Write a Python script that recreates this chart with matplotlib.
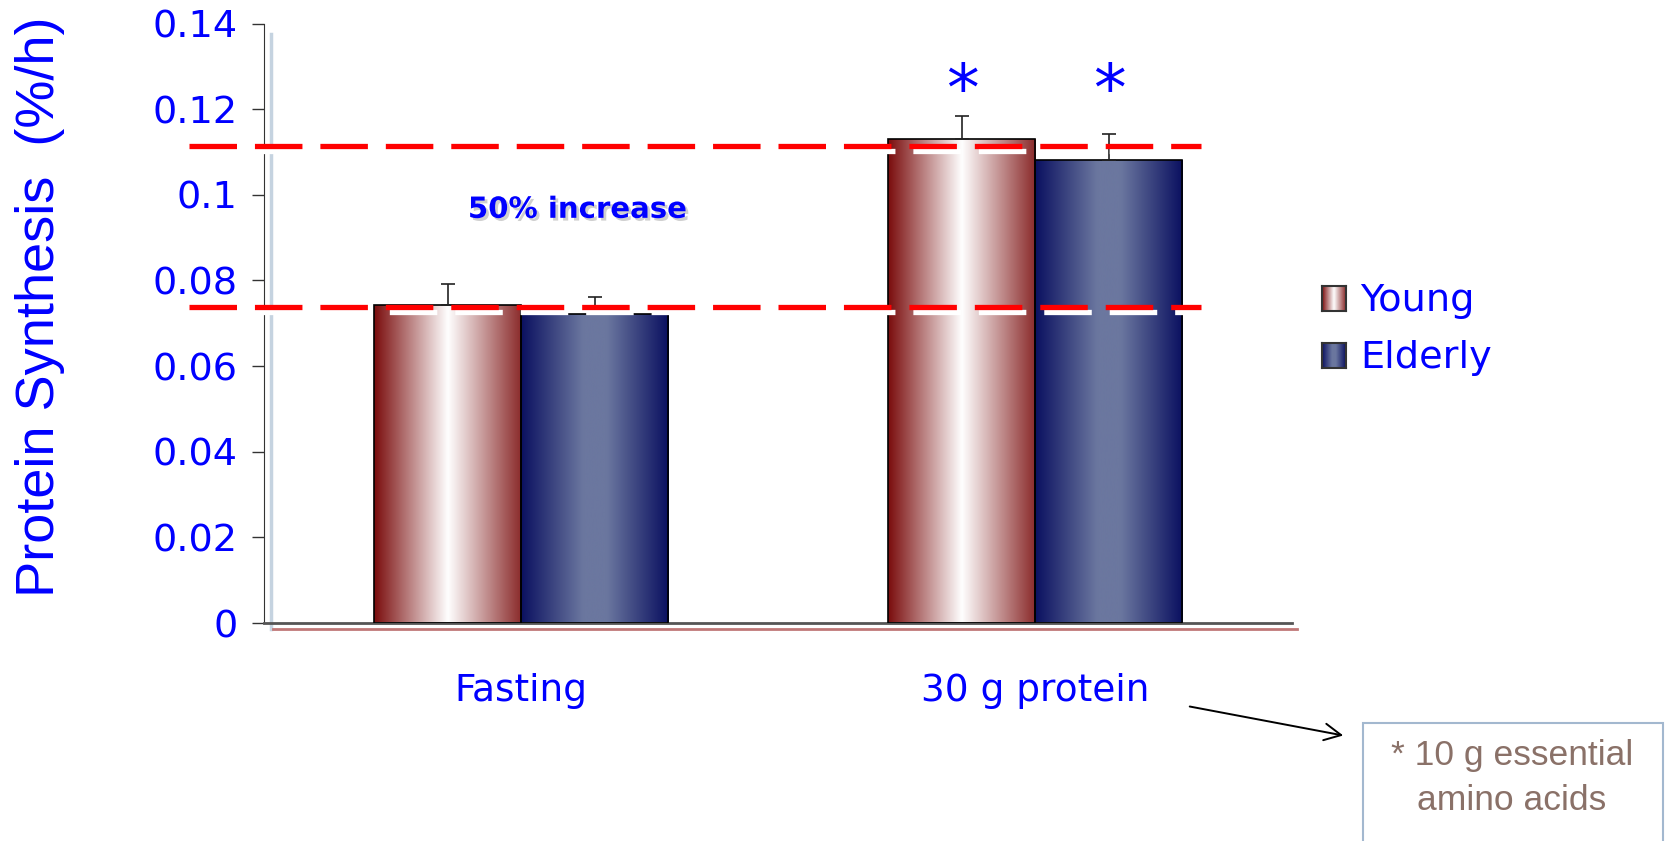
import numpy as np
import matplotlib.pyplot as plt
import matplotlib.patches as mpatches
import matplotlib.patheffects as pe
from matplotlib.colors import LinearSegmentedColormap

# données
categories = ["Fasting", "30 g protein"]
young = [0.0742, 0.1131]
elderly = [0.0722, 0.1081]
young_err = [0.0050, 0.0052]
elderly_err = [0.0040, 0.0060]
significant = [False, True]  # astérisques
ref_levels = [0.1113, 0.0737]  # lignes rouges pointillées
yticks = [0, 0.02, 0.04, 0.06, 0.08, 0.1, 0.12, 0.14]
ytick_labels = ["0", "0.02", "0.04", "0.06", "0.08", "0.1", "0.12", "0.14"]

BLUE = "#0000ff"
young_cmap = LinearSegmentedColormap.from_list(
    "young", [(0, "#7a0c0c"), (0.5, "#ffffff"), (1, "#8a2a2a")])
elderly_cmap = LinearSegmentedColormap.from_list(
    "elderly", [(0, "#0a1060"), (0.42, "#6b779f"), (0.58, "#6b779f"), (1, "#0a1060")])
grad = np.linspace(0, 1, 256).reshape(1, -1)


def gradient_bar(ax, x0, w, h, cmap):
    # barre avec dégradé horizontal
    rect = mpatches.Rectangle((x0, 0), w, h, facecolor="none",
                              edgecolor="black", lw=1.2, zorder=3)
    ax.add_patch(rect)
    im = ax.imshow(grad, cmap=cmap, extent=[x0, x0 + w, 0, h],
                   aspect="auto", zorder=2, interpolation="bicubic")
    im.set_clip_path(rect)


fig = plt.figure(figsize=(16.72, 8.41), dpi=100)
ax = fig.add_axes([0.158, 0.2592, 0.615, 0.7128])

x = np.arange(len(categories))
w = 0.286
for i in x:
    gradient_bar(ax, i - w, w, young[i], young_cmap)
    gradient_bar(ax, i, w, elderly[i], elderly_cmap)

ax.errorbar(x - w / 2, young, yerr=[np.zeros(2), young_err], fmt="none",
            ecolor="#222222", elinewidth=1.2, capsize=5, capthick=1.2, zorder=4)
ax.errorbar(x + w / 2, elderly, yerr=[np.zeros(2), elderly_err], fmt="none",
            ecolor="#222222", elinewidth=1.2, capsize=5, capthick=1.2, zorder=4)

# lignes rouges avec ombre blanche
for lv in ref_levels:
    ax.plot([-0.647, 1.322], [lv, lv], color="red", lw=3.8,
            dashes=(9, 3.4), clip_on=False, zorder=5, solid_capstyle="butt",
            path_effects=[pe.SimpleLineShadow(offset=(3, -3), shadow_color="white", alpha=1),
                          pe.Normal()])

# astérisques
for i in x:
    if significant[i]:
        ax.text(i - w / 2, 0.1195, "*", color=BLUE, fontsize=47, ha="center", va="baseline")
        ax.text(i + w / 2, 0.1195, "*", color=BLUE, fontsize=47, ha="center", va="baseline")

ax.text(0.109, 0.0965, "50% increase", color=BLUE, fontsize=21, fontweight="bold",
        ha="center", va="center",
        path_effects=[pe.withSimplePatchShadow(offset=(2, -2), shadow_rgbFace="#b0b0b0", alpha=0.6)])

ax.set_xlim(-0.5, 1.5)
ax.set_ylim(0, 0.14)
ax.set_yticks(yticks)
ax.set_yticklabels(ytick_labels)
ax.set_xticks(x)
ax.set_xticklabels(categories)
ax.tick_params(axis="y", direction="out", length=9, width=1, color="#333333",
               labelcolor=BLUE, labelsize=27.5, pad=10)
ax.tick_params(axis="x", length=0, labelcolor=BLUE, labelsize=27, pad=36)
for s in ["top", "right"]:
    ax.spines[s].set_visible(False)
ax.spines["left"].set_color("#333333")
ax.spines["bottom"].set_color("#555555")
ax.spines["bottom"].set_linewidth(2)

# lignes décoratives
ax.plot([-0.487, -0.487], [-0.0015, 0.1375], color="#c5d3e0", lw=2.5, clip_on=False, zorder=1)
ax.plot([-0.483, 1.509], [-0.0014, -0.0014], color="#c07878", lw=2, clip_on=False, zorder=1)

fig.text(0.024, 0.635, "Protein Synthesis  (%/h)", rotation=90, color=BLUE,
         fontsize=39, family="Liberation Sans", ha="center", va="center")

# légende
for name, cmap, ytop in [("Young", young_cmap, 286), ("Elderly", elderly_cmap, 343)]:
    sw = fig.add_axes([1322 / 1672, 1 - (ytop + 25) / 841, 24 / 1672, 25 / 841])
    sw.imshow(grad, cmap=cmap, aspect="auto", interpolation="bicubic")
    sw.set_xticks([])
    sw.set_yticks([])
    for sp in sw.spines.values():
        sp.set_linewidth(1.5)
        sp.set_color("#333333")
    fig.text(1360 / 1672, 1 - (ytop + 15) / 841, name, color=BLUE, fontsize=27.5,
             ha="left", va="center")

# flèche et encadré
fig.add_artist(mpatches.FancyArrowPatch((1187 / 1672, 1 - 706 / 841), (1346 / 1672, 1 - 736 / 841),
                                        transform=fig.transFigure, arrowstyle="->,head_length=12,head_width=6",
                                        color="black", lw=1.4))
fig.add_artist(mpatches.Rectangle((1363 / 1672, -0.05), 300 / 1672, 1 - 723 / 841 + 0.05,
                                  transform=fig.transFigure, facecolor="white",
                                  edgecolor="#a3b8cf", lw=1.5))
fig.text(1512 / 1672, 1 - 756 / 841, "* 10 g essential", color="#8a7168", fontsize=25.5,
         family="Liberation Sans", ha="center", va="center")
fig.text(1512 / 1672, 1 - 800 / 841, "amino acids", color="#8a7168", fontsize=25.5,
         family="Liberation Sans", ha="center", va="center")

fig.savefig("out.png", dpi=100)
